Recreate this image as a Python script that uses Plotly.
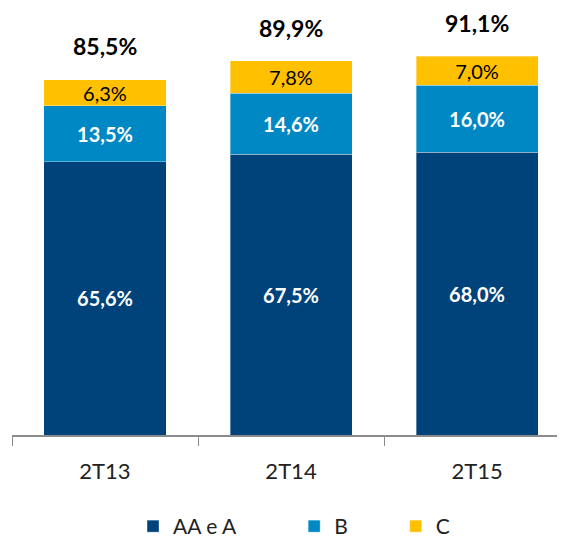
import plotly.graph_objects as go

categories = ["2T13", "2T14", "2T15"]
aa_a = [65.6, 67.5, 68.0]
b_vals = [13.5, 14.6, 16.0]
c_vals = [6.3, 7.8, 7.0]
totals = [85.5, 89.9, 91.1]
series_names = ["AA e A", "B", "C"]

def fmt(v):
    return f"{v:.1f}".replace(".", ",") + "%"

FONT = "Lato, 'Open Sans', sans-serif"
colors = ["#00427a", "#0088c4", "#ffc000"]
label_fonts = [
    dict(color="white", size=20, family=FONT, weight="bold"),
    dict(color="white", size=20, family=FONT, weight="bold"),
    dict(color="black", size=20, family=FONT),
]
pads = ["\u00a0" * 10, "\u00a0" * 8, ""]

fig = go.Figure()
for name, vals, col, lf, pad in zip(series_names, [aa_a, b_vals, c_vals], colors, label_fonts, pads):
    fig.add_trace(go.Bar(
        x=categories, y=vals, name=name + pad,
        marker=dict(color=col, line=dict(color="rgba(255,255,255,0.35)", width=1)),
        text=[fmt(v) for v in vals], textposition="inside", insidetextanchor="middle",
        textfont=lf, insidetextfont=lf, constraintext="none",
        hoverinfo="skip",
    ))

for cat, t in zip(categories, totals):
    fig.add_annotation(x=cat, y=t, text=f"<b>{fmt(t)}</b>", showarrow=False,
                       yanchor="bottom", yshift=17,
                       font=dict(size=23, color="black", family=FONT))

fig.update_layout(
    barmode="stack",
    bargap=0.344,
    width=565, height=539,
    margin=dict(l=4, r=8, t=0, b=109),
    plot_bgcolor="white", paper_bgcolor="white",
    font=dict(family=FONT, size=20, color="#222222"),
    showlegend=True,
    legend=dict(orientation="h", x=0.51, xanchor="center",
                y=-0.215, yanchor="middle",
                font=dict(size=21, color="#222222", family=FONT),
                traceorder="normal", itemwidth=30),
    xaxis=dict(range=[-0.5, 2.473], showline=True, linecolor="#8c8c8c", linewidth=1.5,
               ticks="outside", tickson="boundaries", ticklen=9, tickcolor="#8c8c8c",
               ticklabelstandoff=16,
               tickfont=dict(size=22, color="#222222", family=FONT), showgrid=False),
    yaxis=dict(range=[0, 102.6], visible=False, showgrid=False),
)

fig.write_html("out.html")
